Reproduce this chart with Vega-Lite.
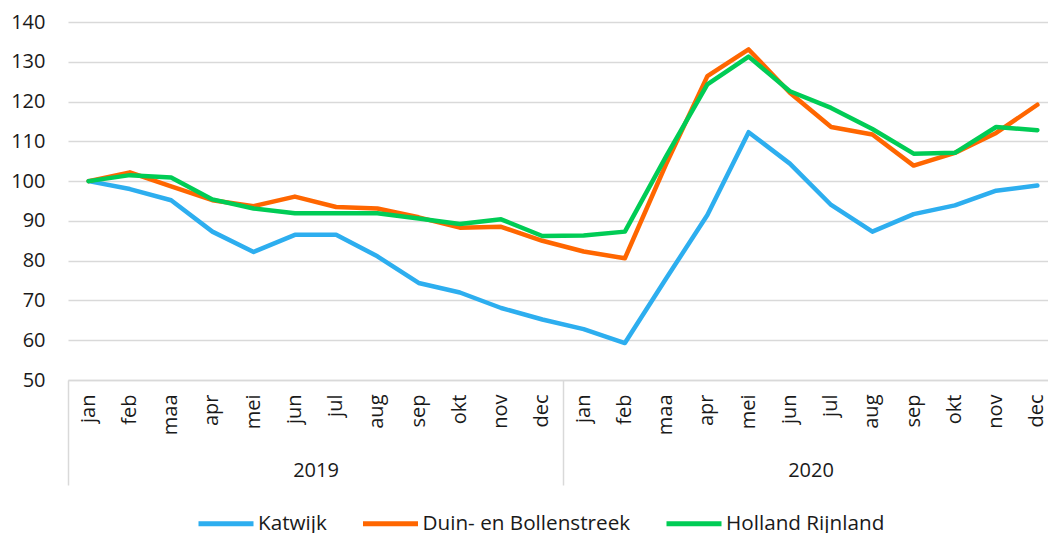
{
  "$schema": "https://vega.github.io/schema/vega-lite/v6.json",
  "autosize": "none",
  "width": 980,
  "height": 358,
  "padding": {"left": 68, "top": 22, "right": 0, "bottom": 153},
  "background": "white",
  "config": {
    "view": {"stroke": null},
    "font": "Open Sans",
    "axis": {"labelFont": "Open Sans", "labelFontSize": 20, "labelColor": "#1a1a1a", "title": null}
  },
  "datasets": {
    "series": [
      {"period": "jan 2019", "region": "Katwijk", "value": 100},
      {"period": "feb 2019", "region": "Katwijk", "value": 98.0},
      {"period": "maa 2019", "region": "Katwijk", "value": 95.2},
      {"period": "apr 2019", "region": "Katwijk", "value": 87.3},
      {"period": "mei 2019", "region": "Katwijk", "value": 82.2},
      {"period": "jun 2019", "region": "Katwijk", "value": 86.5},
      {"period": "jul 2019", "region": "Katwijk", "value": 86.5},
      {"period": "aug 2019", "region": "Katwijk", "value": 81.1},
      {"period": "sep 2019", "region": "Katwijk", "value": 74.4},
      {"period": "okt 2019", "region": "Katwijk", "value": 72.0},
      {"period": "nov 2019", "region": "Katwijk", "value": 68.1},
      {"period": "dec 2019", "region": "Katwijk", "value": 65.2},
      {"period": "jan 2020", "region": "Katwijk", "value": 62.8},
      {"period": "feb 2020", "region": "Katwijk", "value": 59.3},
      {"period": "maa 2020", "region": "Katwijk", "value": 75.5},
      {"period": "apr 2020", "region": "Katwijk", "value": 91.5},
      {"period": "mei 2020", "region": "Katwijk", "value": 112.3},
      {"period": "jun 2020", "region": "Katwijk", "value": 104.4},
      {"period": "jul 2020", "region": "Katwijk", "value": 94.0},
      {"period": "aug 2020", "region": "Katwijk", "value": 87.3},
      {"period": "sep 2020", "region": "Katwijk", "value": 91.7},
      {"period": "okt 2020", "region": "Katwijk", "value": 93.9},
      {"period": "nov 2020", "region": "Katwijk", "value": 97.6},
      {"period": "dec 2020", "region": "Katwijk", "value": 98.9},
      {"period": "jan 2019", "region": "Duin- en Bollenstreek", "value": 100},
      {"period": "feb 2019", "region": "Duin- en Bollenstreek", "value": 102.2},
      {"period": "maa 2019", "region": "Duin- en Bollenstreek", "value": 98.7},
      {"period": "apr 2019", "region": "Duin- en Bollenstreek", "value": 95.2},
      {"period": "mei 2019", "region": "Duin- en Bollenstreek", "value": 93.7},
      {"period": "jun 2019", "region": "Duin- en Bollenstreek", "value": 96.1},
      {"period": "jul 2019", "region": "Duin- en Bollenstreek", "value": 93.5},
      {"period": "aug 2019", "region": "Duin- en Bollenstreek", "value": 93.1},
      {"period": "sep 2019", "region": "Duin- en Bollenstreek", "value": 90.9},
      {"period": "okt 2019", "region": "Duin- en Bollenstreek", "value": 88.3},
      {"period": "nov 2019", "region": "Duin- en Bollenstreek", "value": 88.5},
      {"period": "dec 2019", "region": "Duin- en Bollenstreek", "value": 85.0},
      {"period": "jan 2020", "region": "Duin- en Bollenstreek", "value": 82.3},
      {"period": "feb 2020", "region": "Duin- en Bollenstreek", "value": 80.6},
      {"period": "maa 2020", "region": "Duin- en Bollenstreek", "value": 104.3},
      {"period": "apr 2020", "region": "Duin- en Bollenstreek", "value": 126.4},
      {"period": "mei 2020", "region": "Duin- en Bollenstreek", "value": 133.1},
      {"period": "jun 2020", "region": "Duin- en Bollenstreek", "value": 122.2},
      {"period": "jul 2020", "region": "Duin- en Bollenstreek", "value": 113.6},
      {"period": "aug 2020", "region": "Duin- en Bollenstreek", "value": 111.7},
      {"period": "sep 2020", "region": "Duin- en Bollenstreek", "value": 103.9},
      {"period": "okt 2020", "region": "Duin- en Bollenstreek", "value": 107.1},
      {"period": "nov 2020", "region": "Duin- en Bollenstreek", "value": 112.1},
      {"period": "dec 2020", "region": "Duin- en Bollenstreek", "value": 119.2},
      {"period": "jan 2019", "region": "Holland Rijnland", "value": 100},
      {"period": "feb 2019", "region": "Holland Rijnland", "value": 101.5},
      {"period": "maa 2019", "region": "Holland Rijnland", "value": 100.9},
      {"period": "apr 2019", "region": "Holland Rijnland", "value": 95.4},
      {"period": "mei 2019", "region": "Holland Rijnland", "value": 93.1},
      {"period": "jun 2019", "region": "Holland Rijnland", "value": 91.9},
      {"period": "jul 2019", "region": "Holland Rijnland", "value": 91.9},
      {"period": "aug 2019", "region": "Holland Rijnland", "value": 91.9},
      {"period": "sep 2019", "region": "Holland Rijnland", "value": 90.6},
      {"period": "okt 2019", "region": "Holland Rijnland", "value": 89.2},
      {"period": "nov 2019", "region": "Holland Rijnland", "value": 90.4},
      {"period": "dec 2019", "region": "Holland Rijnland", "value": 86.2},
      {"period": "jan 2020", "region": "Holland Rijnland", "value": 86.3},
      {"period": "feb 2020", "region": "Holland Rijnland", "value": 87.3},
      {"period": "maa 2020", "region": "Holland Rijnland", "value": 106.2},
      {"period": "apr 2020", "region": "Holland Rijnland", "value": 124.3},
      {"period": "mei 2020", "region": "Holland Rijnland", "value": 131.3},
      {"period": "jun 2020", "region": "Holland Rijnland", "value": 122.6},
      {"period": "jul 2020", "region": "Holland Rijnland", "value": 118.4},
      {"period": "aug 2020", "region": "Holland Rijnland", "value": 113.1},
      {"period": "sep 2020", "region": "Holland Rijnland", "value": 106.9},
      {"period": "okt 2020", "region": "Holland Rijnland", "value": 107.1},
      {"period": "nov 2020", "region": "Holland Rijnland", "value": 113.6},
      {"period": "dec 2020", "region": "Holland Rijnland", "value": 112.8}
    ],
    "years": [{"year": "2019"}, {"year": "2020"}]
  },
  "layer": [
    {
      "data": {"name": "series"},
      "mark": {"type": "line", "strokeWidth": 4.5, "strokeJoin": "round", "strokeCap": "round"},
      "encoding": {
        "x": {
          "field": "period",
          "type": "ordinal",
          "sort": null,
          "scale": {"type": "band", "paddingInner": 0, "paddingOuter": 0, "range": [0, 990]},
          "axis": {
            "orient": "bottom",
            "labelAngle": -90,
            "labelExpr": "split(datum.label, ' ')[0]",
            "ticks": false,
            "grid": false,
            "domain": true,
            "domainColor": "#d9d9d9",
            "domainWidth": 1.5,
            "labelPadding": 14
          }
        },
        "y": {
          "field": "value",
          "type": "quantitative",
          "scale": {"domain": [50, 140], "nice": false, "zero": false},
          "axis": {
            "values": [50, 60, 70, 80, 90, 100, 110, 120, 130, 140],
            "grid": true,
            "gridColor": "#d9d9d9",
            "gridWidth": 1.5,
            "domain": false,
            "ticks": false,
            "labelPadding": 23
          }
        },
        "color": {
          "field": "region",
          "type": "nominal",
          "scale": {
            "domain": ["Katwijk", "Duin- en Bollenstreek", "Holland Rijnland"],
            "range": ["#2DAEEF", "#FF6600", "#00CC55"]
          },
          "legend": {
            "title": null,
            "orient": "none",
            "direction": "horizontal",
            "legendX": 144.5,
            "legendY": 488,
            "symbolType": "M-2.5,0H2.5",
            "symbolSize": 484,
            "symbolStrokeWidth": 5,
            "labelFont": "Open Sans",
            "labelFontSize": 20.7,
            "labelColor": "#1a1a1a",
            "labelOffset": 18.5,
            "labelLimit": 400,
            "columnPadding": 25.5
          }
        }
      }
    },
    {
      "data": {"name": "years"},
      "mark": {"type": "rule", "opacity": 0},
      "encoding": {
        "x": {
          "field": "year",
          "type": "ordinal",
          "scale": {"type": "band", "paddingInner": 0, "paddingOuter": 0, "range": [0, 990]},
          "axis": {
            "orient": "bottom",
            "labelAngle": 0,
            "domain": false,
            "grid": false,
            "ticks": true,
            "tickBand": "extent",
            "tickSize": 105,
            "tickColor": "#d9d9d9",
            "tickWidth": 1.5,
            "labelBaseline": "middle",
            "labelPadding": -15
          }
        }
      }
    }
  ],
  "resolve": {"scale": {"x": "independent"}, "axis": {"x": "independent"}}
}
